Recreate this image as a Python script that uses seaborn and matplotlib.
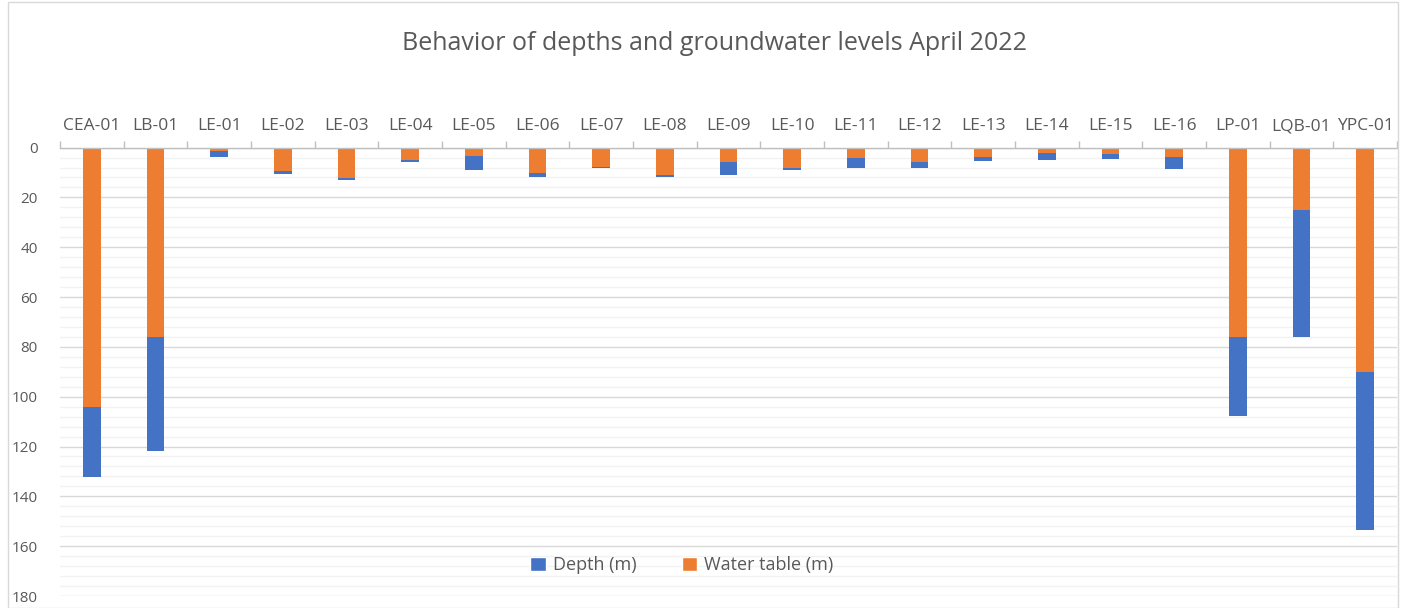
import matplotlib
matplotlib.use("Agg")
import matplotlib.pyplot as plt
import seaborn as sns
import pandas as pd
import numpy as np
from matplotlib.patches import Rectangle, Patch
from matplotlib.ticker import MultipleLocator

wells = ["CEA-01", "LB-01", "LE-01", "LE-02", "LE-03", "LE-04", "LE-05", "LE-06", "LE-07",
         "LE-08", "LE-09", "LE-10", "LE-11", "LE-12", "LE-13", "LE-14", "LE-15", "LE-16",
         "LP-01", "LQB-01", "YPC-01"]
depth = [132.2, 121.8, 3.6, 10.4, 13.1, 5.8, 9.0, 11.8, 8.2, 11.8, 10.8, 9.0, 8.3, 8.3,
         5.4, 5.1, 4.7, 8.7, 107.8, 76.2, 153.6]
water_table = [104.1, 76.0, 1.3, 9.4, 12.2, 5.1, 3.5, 10.2, 7.9, 10.8, 5.8, 8.0, 4.1, 5.8,
               3.6, 2.3, 2.5, 3.9, 76.0, 25.0, 90.1]

BLUE = "#4472C4"
ORANGE = "#ED7D31"
TXT = "#595959"

df = pd.DataFrame({"Well": wells, "Depth (m)": depth, "Water table (m)": water_table})

sns.set_theme(style="white")
plt.rcParams["font.family"] = ["Open Sans", "DejaVu Sans"]

fig = plt.figure(figsize=(14.06, 6.08), dpi=100)
ax = fig.add_axes([60 / 1406, 1 - 596 / 608, (1397 - 60) / 1406, (596 - 147.6) / 608])

sns.barplot(data=df, x="Well", y="Depth (m)", color=BLUE, width=0.28, ax=ax,
            saturation=1, linewidth=0, zorder=3)
sns.barplot(data=df, x="Well", y="Water table (m)", color=ORANGE, width=0.28, ax=ax,
            saturation=1, linewidth=0, zorder=4)

ax.set_xlim(-0.5, len(wells) - 0.5)
ax.set_ylim(180, 0)
ax.yaxis.set_major_locator(MultipleLocator(20))
ax.yaxis.set_minor_locator(MultipleLocator(4))
ax.grid(which="major", axis="y", color="#d9d9d9", linewidth=1.0, zorder=0)
ax.grid(which="minor", axis="y", color="#f2f2f2", linewidth=1.0, zorder=0)
ax.grid(which="major", axis="x", visible=False)
ax.set_axisbelow(True)

ax.xaxis.tick_top()
ax.xaxis.set_label_position("top")
ax.set_xlabel("")
ax.set_ylabel("")
ax.tick_params(axis="x", which="major", length=0, pad=9.5, labelsize=12.5, labelcolor=TXT)
ax.set_xticks(np.arange(-0.5, len(wells) + 0.5, 1), minor=True)
ax.tick_params(axis="x", which="minor", length=5, color="#bfbfbf", width=1, top=True, bottom=False)
ax.tick_params(axis="y", which="both", length=0, pad=16, labelsize=11, labelcolor=TXT)

for s in ["left", "right", "bottom"]:
    ax.spines[s].set_visible(False)
ax.spines["top"].set_color("#bfbfbf")
ax.spines["top"].set_linewidth(1)
ax.spines["top"].set_zorder(5)

fig.text(0.5085, 1 - 44 / 608, "Behavior of depths and groundwater levels April 2022",
         ha="center", va="center", fontsize=18, color=TXT)

handles = [Patch(facecolor=BLUE, label="Depth (m)"), Patch(facecolor=ORANGE, label="Water table (m)")]
leg = ax.legend(handles=handles, loc="center", bbox_to_anchor=(682 / 1406, 1 - 565 / 608),
                bbox_transform=fig.transFigure, ncol=2, frameon=False, fontsize=13,
                handlelength=0.85, handleheight=0.85, columnspacing=2.5, handletextpad=0.4)
for t in leg.get_texts():
    t.set_color(TXT)

fig.patches.append(Rectangle((8 / 1406, 0), 1 - 16 / 1406, 1 - 2 / 608, transform=fig.transFigure,
                             fill=False, edgecolor="#d9d9d9", linewidth=1))

fig.savefig("out.png", dpi=100)
